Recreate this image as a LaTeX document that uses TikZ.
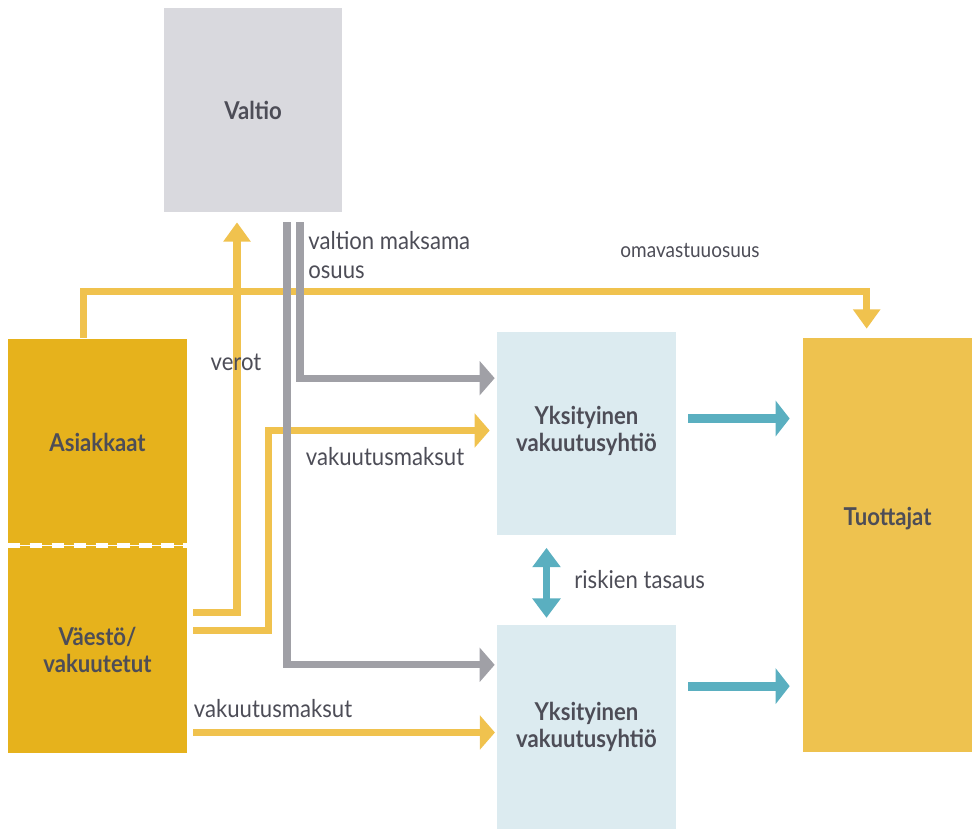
\documentclass[tikz,border=0pt]{standalone}
\usepackage{fontspec}
\setmainfont{Lato}[FakeStretch=0.9]
\usetikzlibrary{arrows.meta, positioning, calc}
\usepackage{xcolor}
\definecolor{txtgrey}{HTML}{4D4D57}
\definecolor{govgrey}{HTML}{D9D9DE}
\definecolor{clientgold}{HTML}{E6B21C}
\definecolor{prodgold}{HTML}{EEC24F}
\definecolor{paleblue}{HTML}{DCEBF0}
\definecolor{lineyellow}{HTML}{F0C24E}
\definecolor{linegrey}{HTML}{A0A0A6}
\definecolor{tealblue}{HTML}{5AAFC0}

\begin{document}
\begin{tikzpicture}[
  x=0.02cm, y=-0.02cm,
  box/.style={rectangle, inner sep=0pt, align=center, text=txtgrey, font=\fontsize{14}{15.5}\selectfont\bfseries},
  gov/.style={box, fill=govgrey, minimum width=3.56cm, minimum height=4.08cm},
  client/.style={box, fill=clientgold, minimum width=3.58cm, minimum height=4.14cm},
  insurer/.style={box, fill=paleblue, minimum width=3.58cm, minimum height=4.08cm},
  producer/.style={box, fill=prodgold, minimum width=3.38cm, minimum height=8.28cm},
  lbl/.style={inner sep=0pt, text=txtgrey, font=\fontsize{14}{17}\selectfont},
  yline/.style={draw=lineyellow, line width=4pt},
  gline/.style={draw=linegrey, line width=4pt},
  bline/.style={draw=tealblue, line width=5pt},
  htip/.style={-{Triangle[length=8.5pt,width=19pt]}},
  vtip/.style={-{Triangle[length=11pt,width=15pt]}}
]
\useasboundingbox (0,0) rectangle (972,828);

% Boxes
\node[gov] (valtio) at (253,110) {Valtio};
\node[client] (asiakkaat) at (97.5,442) {\raisebox{-0.1cm}{Asiakkaat}};
\node[client, below=0pt of asiakkaat] (vaesto) {Väestö/\\vakuutetut};
\node[insurer] (yks1) at (586.5,433.5) {Yksityinen\\vakuutusyhtiö\rule[-0.2cm]{0pt}{0pt}};
\node[insurer, below=1.78cm of yks1] (yks2) {Yksityinen\\vakuutusyhtiö};
\node[producer] (tuottajat) at (887.5,545) {\raisebox{0.56cm}[0.7em][0pt]{Tuottajat}};

% Dashed border
\draw[white, line width=2.8pt, dash pattern=on 7pt off 5.5pt] (asiakkaat.south west) -- (asiakkaat.south east);

% Yellow flows
\draw[yline, vtip] ($(asiakkaat.north west)+(76,0)$) -- ++(0,-47) -| ($(tuottajat.north west)+(64,-9)$);
\draw[yline, vtip] ($(vaesto.north east)+(6,67)$) -| ($(valtio.south)+(-16,10)$);
\draw[yline, htip] ($(vaesto.north east)+(6,85)$) -- ++(75,0) |- ($(yks1.west)+(-7,-3)$);
\coordinate (v3) at ($(vaesto.south east)+(6,-21)$);
\draw[yline, htip, shorten >=1pt] (v3) -- (v3 -| yks2.west);

% Grey flows
\draw[gline, htip] ($(valtio.south)+(47,10)$) |- ($(yks1.north west)+(-2,47)$);
\draw[gline, htip] ($(valtio.south)+(34,10)$) |- ($(yks2.north west)+(-2,40)$);

% Blue flows
\draw[bline, -{Triangle[length=8pt,width=20pt]}] ($(yks1.east)+(12,-15)$) -- ($(yks1.east -| tuottajat.west)+(-13,-15)$);
\draw[bline, -{Triangle[length=8pt,width=20pt]}] ($(yks2.east)+(12,-41)$) -- ($(yks2.east -| tuottajat.west)+(-13,-41)$);
\draw[bline, line width=4pt, {Triangle[length=11pt,width=15.5pt]}-{Triangle[length=11pt,width=15.5pt]}] ($(yks1.south)+(-40,12)$) -- ($(yks2.north)+(-40,-7)$);

% Labels
\node[lbl, anchor=west, align=left] (valtionlbl) at (308,255) {valtion maksama\\osuus};
\node[lbl, font=\fontsize{12}{14}\selectfont] (omalbl) at (690,251) {omavastuuosuus};
\node[lbl] (verotlbl) at (236,362) {verot};
\node[lbl] (vak1lbl) at (385,457) {vakuutusmaksut};
\node[lbl] (vak2lbl) at (273,709) {vakuutusmaksut};
\node[lbl, anchor=west] (risklbl) at (574,580) {riskien tasaus};

\end{tikzpicture}
\end{document}
